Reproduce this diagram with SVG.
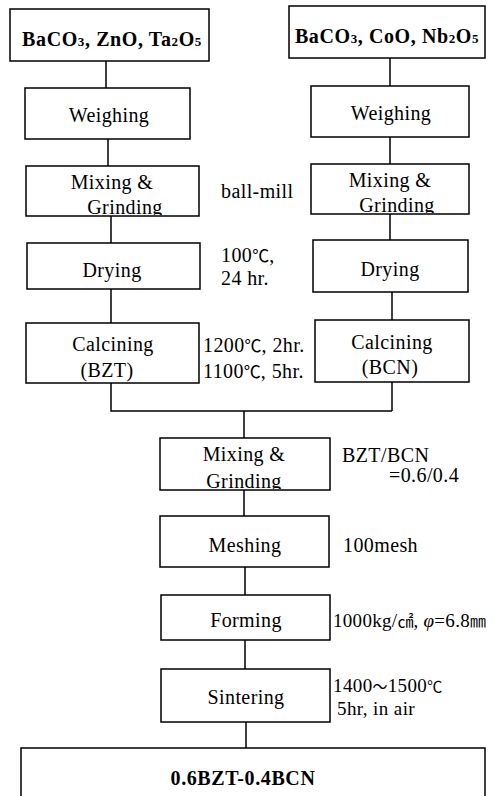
<svg xmlns="http://www.w3.org/2000/svg" width="502" height="796" viewBox="0 0 502 796">
<style>
.box{fill:#fff;stroke:#000;stroke-width:1.5}
.ln{stroke:#000;stroke-width:1.5;fill:none}
text{font-family:"Liberation Serif","DejaVu Serif",serif;font-size:20px;fill:#000;letter-spacing:0.4px}
.c{text-anchor:middle}
.b{font-weight:bold;letter-spacing:0.6px}
.s{font-size:13px}
.k{font-family:"Noto Sans CJK KR","DejaVu Sans",sans-serif;font-size:17px;letter-spacing:0}
</style>
<defs>
<clipPath id="cl"><rect x="26" y="166" width="173" height="49"/></clipPath>
<clipPath id="cr"><rect x="311" y="164" width="158" height="49"/></clipPath>
<clipPath id="cc"><rect x="160" y="437" width="170" height="52"/></clipPath>
</defs>
<rect width="502" height="796" fill="#fff"/>
<g id="connectors">
<path class="ln" d="M106 61V88M108 139V166M111 216V243M111 289V323M111 383V411H392M390 58V86M390 137V164M390 214V240M392 292V320M392 382V411M244 411V438M244 490V516M245 567V595M245 640V669M246 722V748"/>
</g>
<g id="src-bzt"><rect class="box" x="10" y="9" width="199" height="52"/><text class="c b" x="112" y="46">BaCO<tspan class="s">3</tspan>, ZnO, Ta<tspan class="s">2</tspan>O<tspan class="s">5</tspan></text></g>
<g id="src-bcn"><rect class="box" x="289" y="6" width="196" height="52"/><text class="c b" x="387" y="43">BaCO<tspan class="s">3</tspan>, CoO, Nb<tspan class="s">2</tspan>O<tspan class="s">5</tspan></text></g>
<g id="weigh-l"><rect class="box" x="25" y="88" width="165" height="51"/><text class="c" x="109" y="122">Weighing</text></g>
<g id="weigh-r"><rect class="box" x="311" y="86" width="158" height="51"/><text class="c" x="391" y="120">Weighing</text></g>
<g id="mix-l"><rect class="box" x="26" y="166" width="173" height="50"/><g clip-path="url(#cl)"><text class="c" x="112" y="189">Mixing &amp;</text><text class="c" x="125" y="214">Grinding</text></g></g>
<text x="221" y="198">ball-mill</text>
<g id="mix-r"><rect class="box" x="311" y="164" width="158" height="50"/><g clip-path="url(#cr)"><text class="c" x="390" y="187">Mixing &amp;</text><text class="c" x="397" y="212">Grinding</text></g></g>
<g id="dry-l"><rect class="box" x="27" y="243" width="173" height="46"/><text class="c" x="112" y="277">Drying</text></g>
<text x="221" y="262">100<tspan class="k">℃</tspan>,</text>
<text x="221" y="285">24 hr.</text>
<g id="dry-r"><rect class="box" x="313" y="240" width="155" height="52"/><text class="c" x="390" y="276">Drying</text></g>
<g id="calc-l"><rect class="box" x="26" y="323" width="173" height="60"/><text class="c" x="113" y="351">Calcining</text><text class="c" x="107" y="377">(BZT)</text></g>
<text x="203" y="352">1200<tspan class="k">℃</tspan>, 2hr.</text>
<text x="203" y="378">1100<tspan class="k">℃</tspan>, 5hr.</text>
<g id="calc-r"><rect class="box" x="315" y="320" width="154" height="62"/><text class="c" x="392" y="349">Calcining</text><text class="c" x="390" y="374">(BCN)</text></g>
<g id="mix-c"><rect class="box" x="160" y="438" width="170" height="52"/><g clip-path="url(#cc)"><text class="c" x="244" y="461">Mixing &amp;</text><text class="c" x="244" y="488">Grinding</text></g></g>
<text x="342" y="462">BZT/BCN</text>
<text x="389" y="482">=0.6/0.4</text>
<g id="mesh"><rect class="box" x="160" y="516" width="169" height="51"/><text class="c" x="245" y="552">Meshing</text></g>
<text x="343" y="552">100mesh</text>
<g id="form"><rect class="box" x="161" y="595" width="169" height="45"/><text class="c" x="246" y="627">Forming</text></g>
<text x="333" y="627" style="font-size:19px;letter-spacing:0.3px">1000kg/<tspan class="k" style="font-size:16px">㎠</tspan>,  <tspan font-style="italic">φ</tspan>=6.8<tspan class="k" style="font-size:16px">㎜</tspan></text>
<g id="sinter"><rect class="box" x="161" y="669" width="169" height="53"/><text class="c" x="246" y="704">Sintering</text></g>
<text x="333" y="692" style="font-size:19px">1400<tspan class="k" style="font-size:15px">～</tspan>1500<tspan class="k" style="font-size:15px">℃</tspan></text>
<text x="337" y="715" style="font-size:19px">5hr, in air</text>
<g id="final"><rect class="box" x="21" y="748" width="464" height="60"/><text class="c b" x="243" y="785">0.6BZT-0.4BCN</text></g>
</svg>
